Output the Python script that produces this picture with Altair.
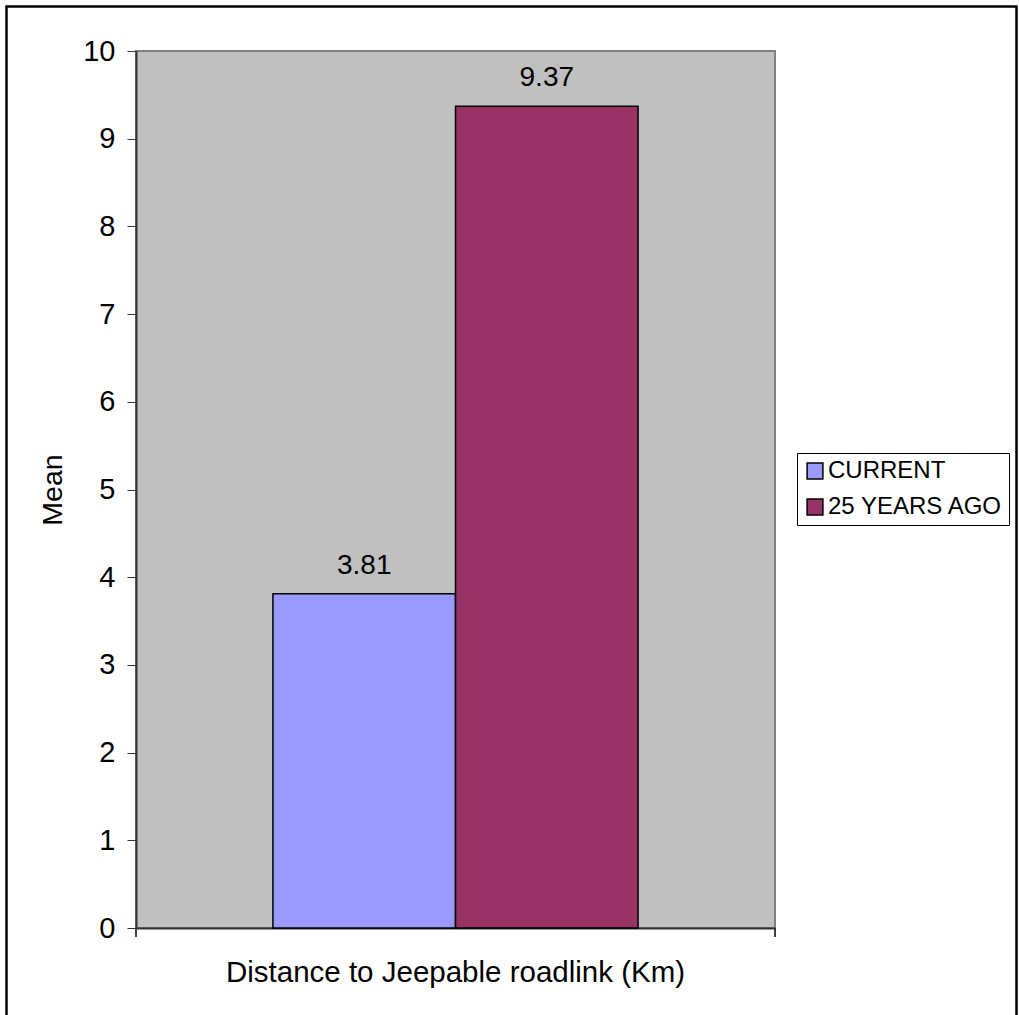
import altair as alt
import pandas as pd

category = ["Distance to Jeepable roadlink (Km)"]
series = ["CURRENT", "25 YEARS AGO"]
values = [3.81, 9.37]
colors = ["#9999FF", "#993366"]
y_ticks = list(range(0, 11))

df = pd.DataFrame({
    "group": category * len(series),
    "series": series,
    "value": values,
})

FONT = "Liberation Sans"
W, H = 639, 877

base = alt.Chart(df)

x_enc = alt.X("group:N", title=None,
              scale=alt.Scale(paddingInner=0, paddingOuter=0),
              axis=alt.Axis(labelFontSize=29.5, labelFont=FONT, labelColor="black",
                            ticks=False, labelPadding=30, labelAngle=0, labelLimit=0,
                            domainColor="#333333", domainWidth=2))
xo_enc = alt.XOffset("series:N", sort=series,
                     scale=alt.Scale(paddingInner=0, paddingOuter=0.75))
y_enc = alt.Y("value:Q", title="Mean",
              scale=alt.Scale(domain=[0, 10], nice=False),
              axis=alt.Axis(values=y_ticks, format="d", grid=False, labelFontSize=29,
                            labelFont=FONT,
                            labelColor="black", tickSize=9, tickColor="#333333",
                            labelPadding=12, domainColor="#333333", domainWidth=2,
                            titleFontSize=28.5, titleFont=FONT, titleFontWeight="normal",
                            titleColor="black", titleAngle=-90, titleBaseline="alphabetic",
                            titleX=-75, titleY=H / 2, titleAlign="center"))

bars = base.mark_bar(stroke="black", strokeWidth=1.5).encode(
    x=x_enc,
    xOffset=xo_enc,
    y=y_enc,
    color=alt.Color("series:N", sort=series,
                    scale=alt.Scale(domain=series, range=colors),
                    legend=alt.Legend(title=None, orient="none", legendX=661, legendY=402,
                                      symbolType="square", symbolSize=250,
                                      symbolStrokeColor="black", symbolStrokeWidth=1.5,
                                      labelFontSize=24, labelFont=FONT, labelColor="black",
                                      labelLimit=0, labelOffset=1, rowPadding=12,
                                      padding=6, strokeColor="black", fillColor="white")),
)

labels = base.mark_text(font=FONT, fontSize=28, color="black",
                        baseline="alphabetic", dy=-20).encode(
    x=alt.X("group:N"),
    xOffset=alt.XOffset("series:N", sort=series),
    y=alt.Y("value:Q"),
    text=alt.Text("value:Q", format=".2f"),
)

tick_l = base.mark_rule(color="#333333", strokeWidth=1.5).encode(
    x=alt.value(0), y=alt.value(H), y2=alt.value(H + 9))
tick_r = base.mark_rule(color="#333333", strokeWidth=1.5).encode(
    x=alt.value(W), y=alt.value(H), y2=alt.value(H + 9))

border = base.mark_rect(filled=False, stroke="black", strokeWidth=2).encode(
    x=alt.value(-129.5), x2=alt.value(880.5), y=alt.value(-44.5), y2=alt.value(975))

chart = alt.layer(bars, labels, tick_l, tick_r, border).properties(
    width=W, height=H,
    autosize=alt.AutoSizeParams(type="none"),
    padding={"left": 136, "top": 51, "right": 244, "bottom": 87},
    background="white",
).configure_view(
    fill="#C0C0C0", stroke="#808080", strokeWidth=2
)

chart.save("out.html", embed_options={"renderer": "svg", "actions": False})
